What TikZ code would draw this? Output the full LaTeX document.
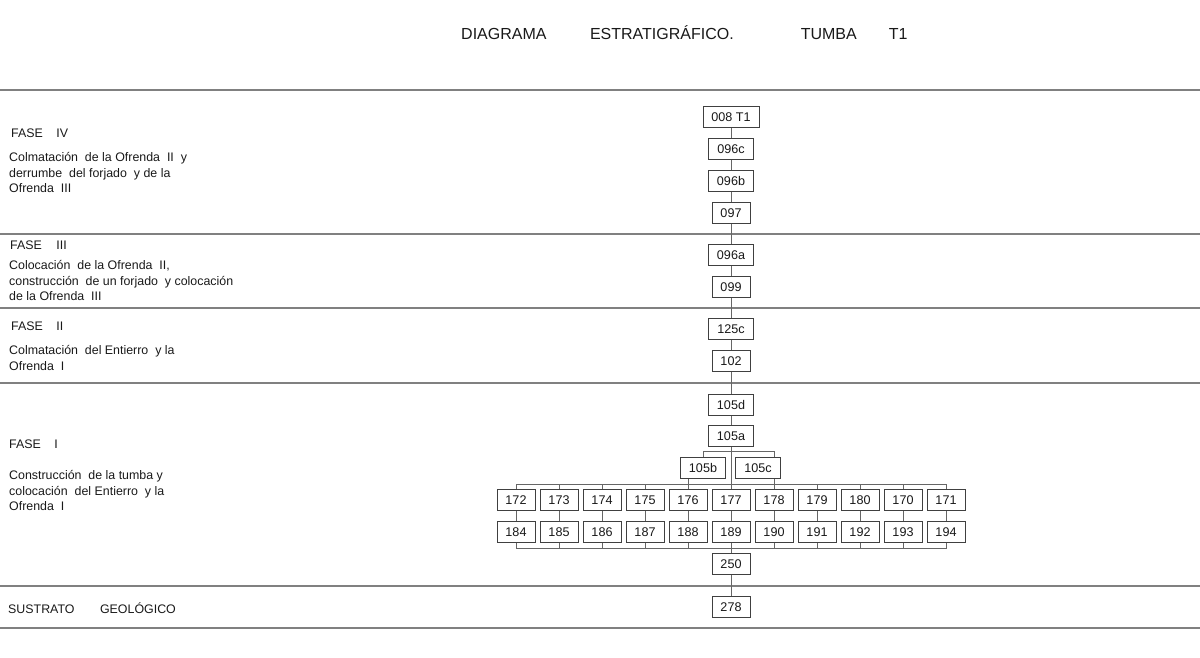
\documentclass[tikz,border=0pt]{standalone}
\usepackage{fontspec}
\setmainfont{Liberation Sans}
\usepackage{xcolor}

\begin{document}
\begin{tikzpicture}
    [x=1pt,y=-1pt,
    uebox/.style={draw=black!75,fill=white,line width=0.7pt,minimum height=21pt,
        inner xsep=8.5pt,inner ysep=0pt,text=black!90,font=\fontsize{12.6}{14}\selectfont},
    link/.style={draw=black!60,line width=0.7pt},
    limit/.style={draw=black!50,line width=1.3pt},
    phase/.style={anchor=north west,inner sep=0pt,align=left,text=black!90,
        font=\fontsize{12.4}{15.8}\selectfont}]
\useasboundingbox (0,0) rectangle (1200,657);

% title
\path (461,39) node [anchor=base west,inner sep=0pt,text=black!90,font=\fontsize{16}{18}\selectfont] (title)
    {DIAGRAMA\hspace{43.5pt}ESTRATIGRÁFICO.\hspace{67pt}TUMBA\hspace{32pt}T1};

% phase limits
\draw [limit] (0,90) -- (1200,90);
\draw [limit] (0,234) -- (1200,234);
\draw [limit] (0,308) -- (1200,308);
\draw [limit] (0,383) -- (1200,383);
\draw [limit] (0,586) -- (1200,586);
\draw [limit] (0,628) -- (1200,628);

% phase texts
\path
    (11,126) node [phase] (fase4) {\strut FASE\hspace{13.5pt}IV}
    (9,150) node [phase] (desc4) {\strut Colmatación\ \ de la Ofrenda\ \ II\ \ y\\
        derrumbe\ \ del forjado\ \ y de la\\ Ofrenda\ \ III}
    (10,238) node [phase] (fase3) {\strut FASE\hspace{14.5pt}III}
    (9,258) node [phase] (desc3) {\strut Colocación\ \ de la Ofrenda\ \ II,\\
        construcción\ \ de un forjado\ \ y colocación\\ de la Ofrenda\ \ III}
    (11,319) node [phase] (fase2) {\strut FASE\hspace{13.5pt}II}
    (9,343) node [phase] (desc2) {\strut Colmatación\ \ del Entierro\ \ y la\\ Ofrenda\ \ I}
    (9,437) node [phase] (fase1) {\strut FASE\hspace{13.5pt}I}
    (9,468) node [phase] (desc1) {\strut Construcción\ \ de la tumba y\\
        colocación\ \ del Entierro\ \ y la\\ Ofrenda\ \ I}
    (8,602) node [phase] (base) {\strut SUSTRATO\hspace{25.5pt}GEOLÓGICO};

% main column
\path
    (731,117) node [uebox] (n008) {008 T1}
    (731,149) node [uebox] (n096c) {096c}
    (731,181) node [uebox] (n096b) {096b}
    (731,213) node [uebox] (n097) {097}
    (731,255) node [uebox] (n096a) {096a}
    (731,287) node [uebox] (n099) {099}
    (731,329) node [uebox] (n125c) {125c}
    (731,361) node [uebox] (n102) {102}
    (731,405) node [uebox] (n105d) {105d}
    (731,436) node [uebox] (n105a) {105a}
    (703,468) node [uebox] (n105b) {105b}
    (758,468) node [uebox] (n105c) {105c}
    (731,564) node [uebox] (n250) {250}
    (731,607) node [uebox] (n278) {278};

% upper row
\path
    (516,500) node [uebox] (n172) {172}
    (559,500) node [uebox] (n173) {173}
    (602,500) node [uebox] (n174) {174}
    (645,500) node [uebox] (n175) {175}
    (688,500) node [uebox] (n176) {176}
    (731,500) node [uebox] (n177) {177}
    (774,500) node [uebox] (n178) {178}
    (817,500) node [uebox] (n179) {179}
    (860,500) node [uebox] (n180) {180}
    (903,500) node [uebox] (n170) {170}
    (946,500) node [uebox] (n171) {171};

% lower row
\path
    (516,532) node [uebox] (n184) {184}
    (559,532) node [uebox] (n185) {185}
    (602,532) node [uebox] (n186) {186}
    (645,532) node [uebox] (n187) {187}
    (688,532) node [uebox] (n188) {188}
    (731,532) node [uebox] (n189) {189}
    (774,532) node [uebox] (n190) {190}
    (817,532) node [uebox] (n191) {191}
    (860,532) node [uebox] (n192) {192}
    (903,532) node [uebox] (n193) {193}
    (946,532) node [uebox] (n194) {194};

% vertical sequence
\draw [link]
    (n008) -- (n096c) (n096c) -- (n096b) (n096b) -- (n097) (n097) -- (n096a)
    (n096a) -- (n099) (n099) -- (n125c) (n125c) -- (n102) (n102) -- (n105d)
    (n105d) -- (n105a) (n105a) -- (n177) (n177) -- (n189) (n189) -- (n250)
    (n250) -- (n278);

% split under 105a
\draw [link] (n105b.north) -- +(0,-6) -| (n178.north |- n105c.north);
\draw [link] (n176.north |- n105b.south) -- (n176.north);
\draw [link] (n178.north |- n105c.south) -- (n178.north);

% upper bus
\draw [link] (n172.north) -- +(0,-5) -| (n171.north);
\draw [link]
    (n173.north) -- +(0,-5) (n174.north) -- +(0,-5) (n175.north) -- +(0,-5)
    (n179.north) -- +(0,-5) (n180.north) -- +(0,-5) (n170.north) -- +(0,-5);

% row to row
\draw [link]
    (n172) -- (n184) (n173) -- (n185) (n174) -- (n186) (n175) -- (n187)
    (n176) -- (n188) (n178) -- (n190) (n179) -- (n191) (n180) -- (n192)
    (n170) -- (n193) (n171) -- (n194);

% lower bus
\draw [link] (n184.south) -- +(0,5) -| (n194.south);
\draw [link]
    (n185.south) -- +(0,5) (n186.south) -- +(0,5) (n187.south) -- +(0,5)
    (n188.south) -- +(0,5) (n190.south) -- +(0,5) (n191.south) -- +(0,5)
    (n192.south) -- +(0,5) (n193.south) -- +(0,5);
\end{tikzpicture}
\end{document}
